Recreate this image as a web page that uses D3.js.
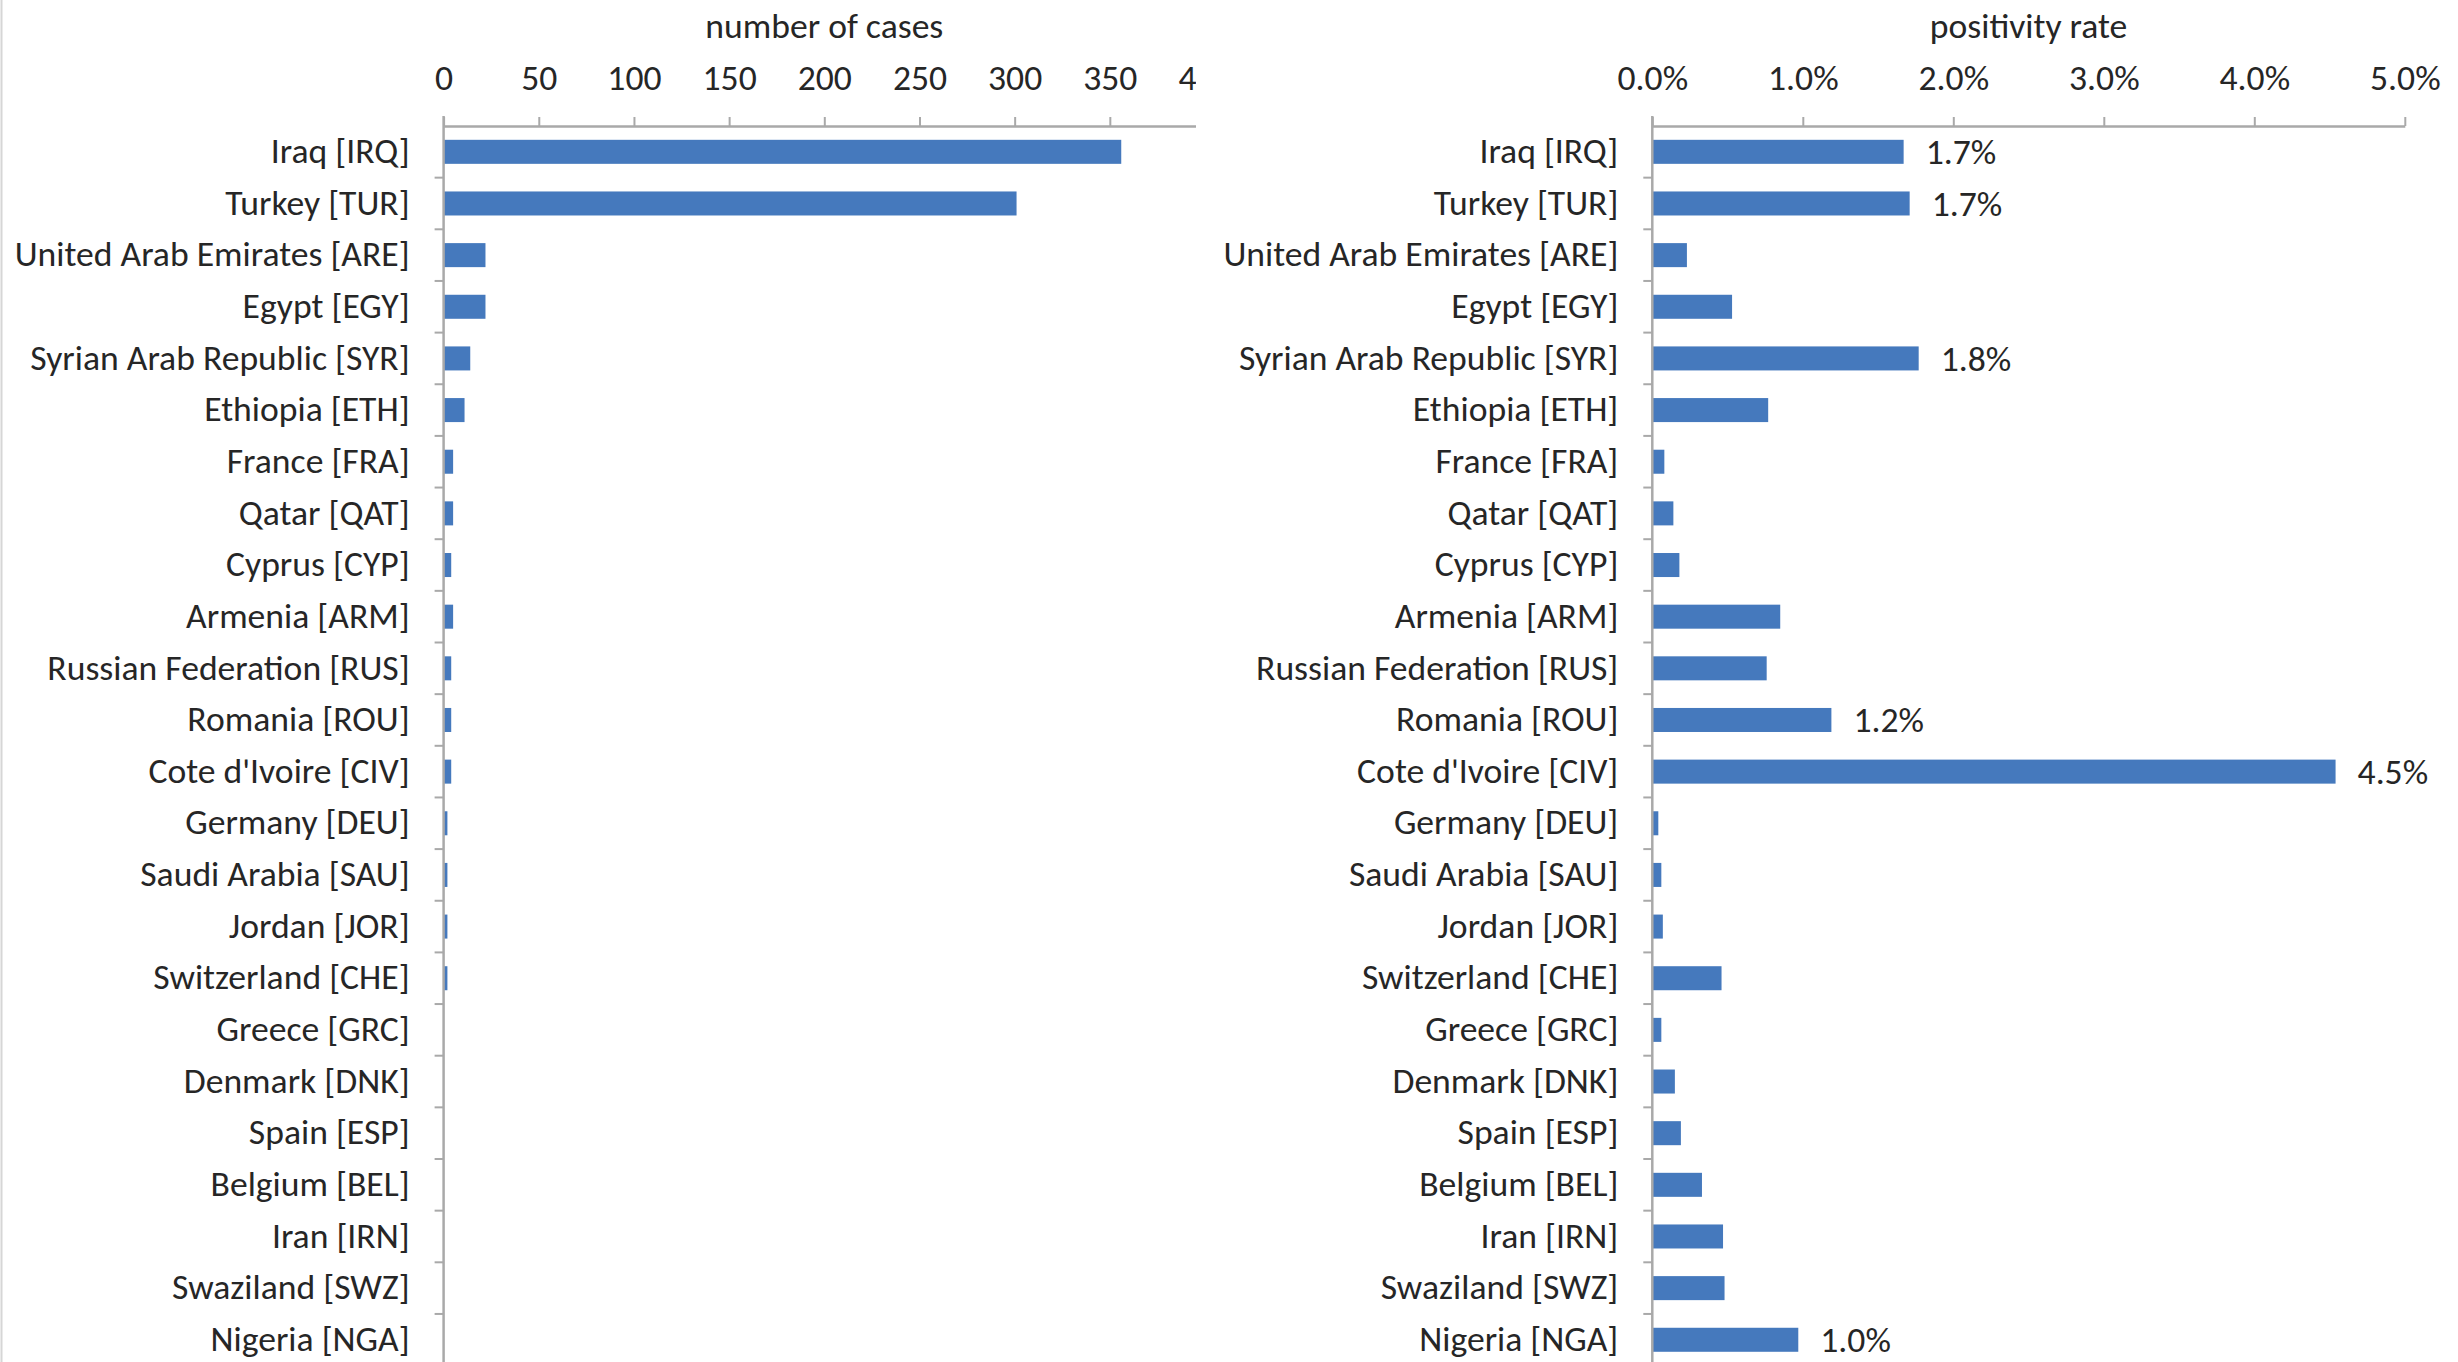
<!DOCTYPE html>
<html>
<head>
<meta charset="utf-8">
<script src="https://cdn.jsdelivr.net/npm/d3@7"></script>
<style>
html,body{margin:0;padding:0;background:#fff;overflow:hidden}
text{font-family:Calibri,Carlito,Lato,"Open Sans",sans-serif;fill:#262626}
</style>
</head>
<body>
<svg id="chart" width="2458" height="1362"></svg>
<script>
// ---- data ----
const countries = ["Iraq [IRQ]","Turkey [TUR]","United Arab Emirates [ARE]","Egypt [EGY]",
  "Syrian Arab Republic [SYR]","Ethiopia [ETH]","France [FRA]","Qatar [QAT]","Cyprus [CYP]",
  "Armenia [ARM]","Russian Federation [RUS]","Romania [ROU]","Cote d'Ivoire [CIV]",
  "Germany [DEU]","Saudi Arabia [SAU]","Jordan [JOR]","Switzerland [CHE]","Greece [GRC]",
  "Denmark [DNK]","Spain [ESP]","Belgium [BEL]","Iran [IRN]","Swaziland [SWZ]","Nigeria [NGA]"];
const cases = [356,301,22,22,14,11,5,5,4,5,4,4,4,2,2,2,2,0,0,0,0,0,0,0];
const positivity = [0.0167,0.0171,0.0023,0.0053,0.0177,0.0077,0.0008,0.0014,0.0018,
  0.0085,0.0076,0.0119,0.0454,0.0004,0.0006,0.0007,0.0046,0.0006,0.0015,0.0019,
  0.0033,0.0047,0.0048,0.0097];
const labelledCountries = ["Iraq [IRQ]","Turkey [TUR]","Syrian Arab Republic [SYR]",
  "Romania [ROU]","Cote d'Ivoire [CIV]","Nigeria [NGA]"];
const casesTicks = [0,50,100,150,200,250,300,350,400];
const rateTicks = [0,0.01,0.02,0.03,0.04,0.05];
const casesTitle = "number of cases";
const rateTitle = "positivity rate";

// ---- style ----
const FONT = 35;
const BAR = "#4579bd";
const AXIS = "#a9a9a9";
const svg = d3.select("#chart");

function draw() {
  // horizontal fit to mimic the reference face width
  const probe = svg.append("text").style("font-size", FONT + "px").text("United Arab Emirates [ARE]");
  const w = probe.node().getBBox().width;
  const sx = Math.max(0.8, Math.min(1.15, 395 / w));
  probe.remove();

  svg.append("line").attr("x1",1.5).attr("x2",1.5).attr("y1",0).attr("y2",1362)
    .attr("stroke","#d6d6d6").attr("stroke-width",2);

  const y = d3.scaleBand().domain(countries).range([126, 126 + 51.65 * countries.length])
    .paddingInner(0.535).paddingOuter(0.2675);

  function panel(opts) {
    const g = svg.append("g");
    if (opts.clip) {
      svg.append("clipPath").attr("id", opts.id + "clip").append("rect")
        .attr("x", 0).attr("y", 0).attr("width", opts.clip).attr("height", 1362);
      g.attr("clip-path", `url(#${opts.id}clip)`);
    }
    const x = d3.scaleLinear().domain(opts.domain).range(opts.range);
    const x0 = x(0);

    // bars
    g.selectAll("rect.bar").data(countries).join("rect").attr("class","bar")
      .attr("x", x0).attr("y", d => y(d))
      .attr("width", (d,i) => Math.max(0, x(opts.values[i]) - x0))
      .attr("height", y.bandwidth()).attr("fill", BAR);

    // top value axis
    const ax = g.append("g").attr("transform", `translate(0,${y.range()[0]})`)
      .call(d3.axisTop(x).tickValues(opts.ticks).tickFormat(opts.fmt).tickSize(9).tickPadding(27).tickSizeOuter(0));
    ax.attr("font-family", null);
    ax.select(".domain").attr("stroke", AXIS).attr("stroke-width", 2.5);
    ax.selectAll(".tick line").attr("stroke", AXIS).attr("stroke-width", 2);
    ax.selectAll(".tick text").attr("fill", "#262626").style("font-size", FONT + "px")
      .attr("transform", `scale(${sx},1)`).attr("x", 0);

    // category axis
    const cy = g.append("g").attr("transform", `translate(${x0},0)`)
      .call(d3.axisLeft(y).tickSize(0).tickPadding(34));
    cy.attr("font-family", null);
    cy.select(".domain").attr("stroke", AXIS).attr("stroke-width", 2.5)
      .attr("d", `M0,${y.range()[0] - 10}V1362`);
    cy.selectAll(".tick text").attr("fill", "#262626").style("font-size", FONT + "px")
      .attr("transform", `scale(${sx},1)`).attr("x", -34 / sx);
    // boundary ticks between categories
    const step = y.step();
    cy.selectAll("line.bt").data(countries).join("line").attr("class","bt")
      .attr("x1", -9).attr("x2", 0)
      .attr("y1", d => y(d) - step * y.paddingInner() / 2 + step)
      .attr("y2", d => y(d) - step * y.paddingInner() / 2 + step)
      .attr("stroke", AXIS).attr("stroke-width", 2);

    // title
    g.append("text").attr("text-anchor","middle").style("font-size", FONT + "px")
      .attr("transform", `translate(${(opts.range[0] + opts.range[1]) / 2},38) scale(${sx},1)`)
      .text(opts.title);

    // data labels
    if (opts.labels) {
      g.selectAll("text.dl").data(countries.filter(c => opts.labels.includes(c))).join("text")
        .attr("class","dl").style("font-size", FONT + "px").attr("dy","0.35em")
        .attr("transform", d => `translate(${x(opts.values[countries.indexOf(d)]) + 22},${y(d) + y.bandwidth()/2}) scale(${sx},1)`)
        .text(d => opts.fmt(opts.values[countries.indexOf(d)]));
    }
  }

  panel({id:"cases", values: cases, domain:[0,400], range:[443.6, 1205], ticks: casesTicks,
    fmt: d3.format("d"), title: casesTitle, clip: 1196});
  panel({id:"rate", values: positivity, domain:[0,0.05], range:[1652.3, 2404.8], ticks: rateTicks,
    fmt: d3.format(".1%"), title: rateTitle, labels: labelledCountries});
}

if (document.fonts && document.fonts.ready) {
  document.fonts.load(FONT + "px Lato").then(() => document.fonts.ready).then(draw, draw);
} else {
  draw();
}
</script>
</body>
</html>
